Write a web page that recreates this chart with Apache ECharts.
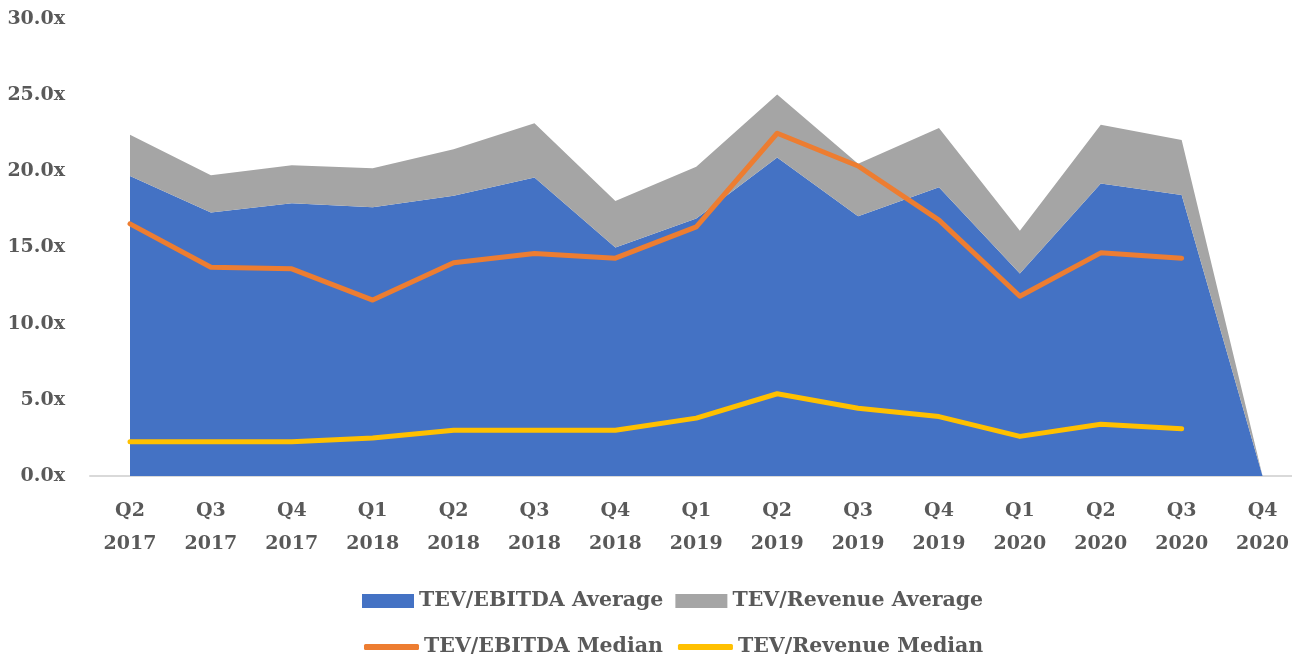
<!DOCTYPE html>
<html>
<head>
<meta charset="utf-8">
<script src="https://cdn.jsdelivr.net/npm/echarts@6/dist/echarts.min.js"></script>
<style>
  html, body { margin: 0; padding: 0; background: #fff; }
  #main { width: 1292px; height: 658px; }
</style>
</head>
<body>
<div id="main"></div>
<script>
// quarters on the x axis
var quarters = ['Q2\n2017', 'Q3\n2017', 'Q4\n2017', 'Q1\n2018', 'Q2\n2018', 'Q3\n2018', 'Q4\n2018',
  'Q1\n2019', 'Q2\n2019', 'Q3\n2019', 'Q4\n2019', 'Q1\n2020', 'Q2\n2020', 'Q3\n2020', 'Q4\n2020']

// stacked areas
var ebitdaAvg = [19.7, 17.3, 17.9, 17.65, 18.4, 19.6, 15.0, 16.9, 20.9, 17.05, 18.95, 13.3, 19.2, 18.45, 0]
var revenueAvg = [2.7, 2.45, 2.5, 2.55, 3.05, 3.55, 3.05, 3.4, 4.15, 3.45, 3.9, 2.8, 3.85, 3.6, 0]

// median lines (no Q4 2020 point)
var ebitdaMedian = [16.55, 13.7, 13.6, 11.55, 14.0, 14.6, 14.3, 16.35, 22.5, 20.35, 16.8, 11.8, 14.65, 14.3, null]
var revenueMedian = [2.25, 2.25, 2.25, 2.5, 3.0, 3.0, 3.0, 3.8, 5.4, 4.45, 3.9, 2.6, 3.4, 3.1, null]

var font = 'DejaVu Serif'
var textColor = '#595959'

var chart = echarts.init(document.getElementById('main'))

var option = {
  animation: false,
  color: ['#4472C4', '#A5A5A5', '#ED7D31', '#FFC000'],
  textStyle: { fontFamily: font, fontWeight: 'bold', color: textColor },
  grid: [
    { left: 130, right: 24, top: 19, bottom: 182 },
    // only used to draw the long base line
    { left: 90, right: 0, top: 19, bottom: 182 }
  ],
  legend: [
    {
      left: 357,
      top: 584,
      itemWidth: 52,
      itemHeight: 14,
      itemGap: 12,
      itemStyle: { borderWidth: 0 },
      textStyle: { fontFamily: font, fontWeight: 'bold', fontSize: 20.5, color: textColor, lineHeight: 24 },
      data: [
        { name: 'TEV/EBITDA Average', icon: 'rect' },
        { name: 'TEV/Revenue Average', icon: 'rect' }
      ]
    },
    {
      left: 359,
      top: 630,
      itemWidth: 55,
      itemHeight: 6,
      itemGap: 15,
      textStyle: { fontFamily: font, fontWeight: 'bold', fontSize: 20.5, color: textColor, lineHeight: 24 },
      data: [
        { name: 'TEV/EBITDA Median', icon: 'roundRect' },
        { name: 'TEV/Revenue Median', icon: 'roundRect' }
      ]
    }
  ],
  xAxis: [
    {
      type: 'category',
      gridIndex: 0,
      data: quarters,
      boundaryGap: false,
      axisLine: { show: false },
      axisTick: { show: false },
      axisLabel: {
        interval: 0,
        margin: 19,
        fontFamily: font,
        fontWeight: 'bold',
        fontSize: 19,
        lineHeight: 33,
        color: textColor
      }
    },
    {
      type: 'value',
      gridIndex: 1,
      min: 0,
      max: 1,
      axisLine: { show: true, lineStyle: { color: '#D9D9D9', width: 2 } },
      axisTick: { show: false },
      axisLabel: { show: false },
      splitLine: { show: false }
    }
  ],
  yAxis: [
    {
      type: 'value',
      gridIndex: 0,
      min: 0,
      max: 30,
      interval: 5,
      axisLine: { show: false },
      axisTick: { show: false },
      splitLine: { show: false },
      axisLabel: {
        margin: 65,
        fontFamily: font,
        fontWeight: 'bold',
        fontSize: 19,
        color: textColor,
        formatter: function (v) { return v.toFixed(1) + 'x' }
      }
    },
    {
      type: 'value',
      gridIndex: 1,
      show: false
    }
  ],
  series: [
    {
      name: 'TEV/EBITDA Average',
      type: 'line',
      stack: 'avg',
      data: ebitdaAvg,
      showSymbol: false,
      lineStyle: { width: 0 },
      areaStyle: { color: '#4472C4', opacity: 1 },
      itemStyle: { color: '#4472C4' },
      z: 1
    },
    {
      name: 'TEV/Revenue Average',
      type: 'line',
      stack: 'avg',
      data: revenueAvg,
      showSymbol: false,
      lineStyle: { width: 0 },
      areaStyle: { color: '#A5A5A5', opacity: 1 },
      itemStyle: { color: '#A5A5A5' },
      z: 1
    },
    {
      name: 'TEV/EBITDA Median',
      type: 'line',
      data: ebitdaMedian,
      showSymbol: false,
      lineStyle: { width: 5, color: '#ED7D31', cap: 'round', join: 'round' },
      itemStyle: { color: '#ED7D31' },
      z: 3
    },
    {
      name: 'TEV/Revenue Median',
      type: 'line',
      data: revenueMedian,
      showSymbol: false,
      lineStyle: { width: 5, color: '#FFC000', cap: 'round', join: 'round' },
      itemStyle: { color: '#FFC000' },
      z: 3
    }
  ]
}

chart.setOption(option)
</script>
</body>
</html>
